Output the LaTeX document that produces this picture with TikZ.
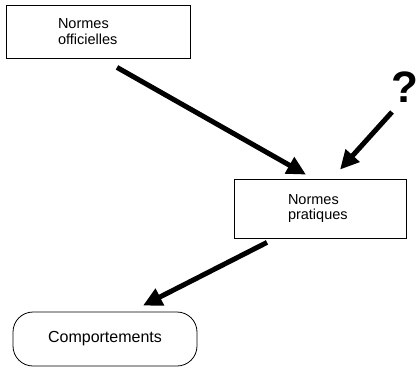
\documentclass[tikz,border=0pt]{standalone}
\usepackage{fontspec}
\setmainfont{Liberation Sans}
\usepackage{tikz}
\usetikzlibrary{positioning,calc,arrows.meta}

\begin{document}
\begin{tikzpicture}[x=1pt,y=-1pt,
    boite/.style={draw,line width=0.8pt,inner sep=0pt,align=left,font=\fontsize{14.5}{15.5}\selectfont},
    fleche/.style={line width=5pt,-{Triangle[length=19pt,width=18pt]}}]
    \useasboundingbox (0,0) rectangle (420,368);
    % les trois boites
    \node[boite,minimum width=184pt,minimum height=53pt,text width=80pt] (offic) at (98,31.5) {Normes\\officielles};
    \node[boite,minimum width=172pt,minimum height=59pt,text width=65pt] (prat) at (320.5,208.5) {Normes\\pratiques};
    \node[boite,rounded corners=20pt,minimum width=184pt,minimum height=54pt,align=center,font=\fontsize{16}{18}\selectfont] (comp) at (105,339) {Comportements};
    \node[inner sep=0pt,anchor=base east,font=\bfseries\fontsize{44}{44}\selectfont] (qmark) at (419,102) {?};
    % fleches
    \draw[fleche] ($(offic.south)+(19,9)$) -- ($(prat.north)+(-14.5,-4)$);
    \draw[fleche] ($(qmark.base east)+(-27,10)$) -- ($(prat.north)+(19.5,-9)$);
    \draw[fleche] ($(prat.south)+(-53.5,4)$) -- ($(comp.north)+(38,-6)$);
\end{tikzpicture}
\end{document}
